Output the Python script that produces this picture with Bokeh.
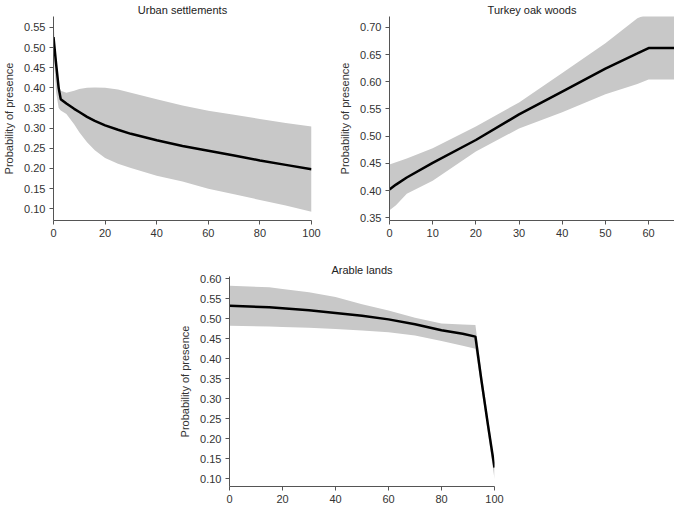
from bokeh.plotting import figure
from bokeh.layouts import column, row
from bokeh.models import FixedTicker, PrintfTickFormatter, Range1d, Spacer
from bokeh.embed import file_html
from bokeh.resources import INLINE

# ---- data ----
urban_x = [0, 1, 2, 2.8, 5, 8, 10, 13, 16, 20, 25, 30, 40, 50, 60, 70, 80, 90, 100]
urban_mean = [0.526, 0.46, 0.40, 0.372, 0.361, 0.348, 0.340, 0.328, 0.318, 0.307, 0.296, 0.286,
              0.270, 0.256, 0.244, 0.232, 0.220, 0.209, 0.198]
urban_up = [0.574, 0.44, 0.405, 0.393, 0.388, 0.393, 0.397, 0.400, 0.401, 0.400, 0.396, 0.388,
            0.372, 0.356, 0.343, 0.333, 0.323, 0.313, 0.304]
urban_lo = [0.49, 0.39, 0.35, 0.344, 0.335, 0.310, 0.290, 0.265, 0.245, 0.226, 0.212, 0.201,
            0.182, 0.168, 0.150, 0.136, 0.122, 0.108, 0.093]

oak_x = [0, 1.5, 4, 10, 20, 30, 40, 50, 57.4, 60, 66]
oak_mean = [0.402, 0.411, 0.424, 0.451, 0.493, 0.540, 0.582, 0.624, 0.652, 0.662, 0.662]
oak_up = [0.448, 0.452, 0.459, 0.478, 0.518, 0.562, 0.616, 0.671, 0.717, 0.725, 0.725]
oak_lo = [0.364, 0.373, 0.394, 0.418, 0.472, 0.514, 0.544, 0.577, 0.596, 0.604, 0.604]

arable_x = [0, 15, 20, 30, 40, 50, 60, 70, 80, 88, 92.8, 95, 97.5, 100]
arable_mean = [0.532, 0.528, 0.526, 0.521, 0.514, 0.507, 0.498, 0.486, 0.471, 0.462, 0.455,
               0.349, 0.236, 0.128]
arable_up = [0.582, 0.578, 0.574, 0.566, 0.554, 0.536, 0.520, 0.502, 0.488, 0.485, 0.484,
             0.37, 0.255, 0.14]
arable_lo = [0.482, 0.480, 0.479, 0.477, 0.474, 0.470, 0.466, 0.458, 0.444, 0.432, 0.425,
             0.33, 0.215, 0.10]

titles = ["Urban settlements", "Turkey oak woods", "Arable lands"]
ylabel = "Probability of presence"

urban_yticks = [0.10, 0.15, 0.20, 0.25, 0.30, 0.35, 0.40, 0.45, 0.50, 0.55]
urban_xticks = [0, 20, 40, 60, 80, 100]
oak_yticks = [0.35, 0.40, 0.45, 0.50, 0.55, 0.60, 0.65, 0.70]
oak_xticks = [0, 10, 20, 30, 40, 50, 60]
arable_yticks = [0.10, 0.15, 0.20, 0.25, 0.30, 0.35, 0.40, 0.45, 0.50, 0.55, 0.60]
arable_xticks = [0, 20, 40, 60, 80, 100]

FONT = "Liberation Sans"
AX = "#555555"
TXT = "#333333"
BAND = "#c8c8c8"


def panel(title, xs, mean, up, lo, xr, yr, xticks, yticks, fw, fh, bl, br, bt, bb):
    p = figure(frame_width=fw, frame_height=fh, x_range=Range1d(*xr), y_range=Range1d(*yr),
               output_backend="svg", toolbar_location=None,
               min_border_left=bl, min_border_right=br, min_border_top=bt, min_border_bottom=bb)
    p.title.text = title
    p.title.align = "center"
    p.title.text_font = FONT
    p.title.text_font_size = "11px"
    p.title.text_font_style = "normal"
    p.title.text_color = "#222222"
    p.title.standoff = 2
    p.outline_line_color = None
    p.grid.visible = False
    p.varea(x=xs, y1=lo, y2=up, fill_color=BAND, fill_alpha=1.0)
    p.line(x=xs, y=mean, line_color="black", line_width=2.5)
    p.xaxis.ticker = FixedTicker(ticks=xticks)
    p.yaxis.ticker = FixedTicker(ticks=yticks)
    p.yaxis.formatter = PrintfTickFormatter(format="%.2f")
    p.yaxis.axis_label = ylabel
    for ax in (p.xaxis, p.yaxis):
        ax.axis_line_color = AX
        ax.major_tick_line_color = AX
        ax.major_tick_out = 4
        ax.major_tick_in = 0
        ax.minor_tick_line_color = None
        ax.major_label_text_font = FONT
        ax.major_label_text_font_size = "11px"
        ax.major_label_text_color = TXT
        ax.major_label_standoff = 4
        ax.axis_label_text_font = FONT
        ax.axis_label_text_font_size = "11px"
        ax.axis_label_text_font_style = "normal"
        ax.axis_label_text_color = TXT
        ax.axis_label_standoff = 6
    return p


p1 = panel(titles[0], urban_x, urban_mean, urban_up, urban_lo, (0, 100), (0.071, 0.577),
           urban_xticks, urban_yticks, 258, 204, 48, 12, 14, 24)
p2 = panel(titles[1], oak_x, oak_mean, oak_up, oak_lo, (0, 66), (0.345, 0.72),
           oak_xticks, oak_yticks, 285, 204, 66, 0, 14, 24)
p3 = panel(titles[2], arable_x, arable_mean, arable_up, arable_lo, (0, 100), (0.081, 0.605),
           arable_xticks, arable_yticks, 265, 210, 48, 12, 32, 24)

layout = column(row(p1, p2), row(Spacer(width=176, height=10), p3))

open("out.html", "w").write(file_html(layout, INLINE))
